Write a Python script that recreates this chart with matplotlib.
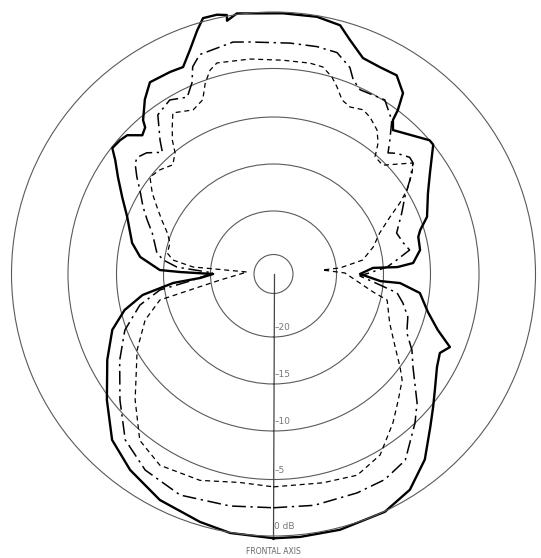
import numpy as np
import matplotlib
matplotlib.use("Agg")
import matplotlib.pyplot as plt

# Polar response, levels in dB, angle in degrees from the frontal axis
# (0 = front / bottom of the chart, increasing towards the right side).
solid_theta = [0, 5.8, 14.6, 25.1, 32.3, 39.2, 45.7, 50.2, 54.3, 60.4, 64.6, 67.5,
               71.2, 76.2, 82.6, 85.9, 86.2, 90.0, 93.5, 93.2, 94.5, 99.3, 104.4,
               106.7, 110.4, 117.7, 122.8, 129.0, 130.6, 140.3, 142.2, 142.8, 144.4,
               148.2, 152.8, 157.5, 161.9, 165.0, 170.4, 177.9, 188.0, 190.4, 190.2,
               192.3, 195.4, 197.4, 200.4, 203.6, 207.1, 212.8, 216.4, 220.3, 221.2,
               223.4, 226.5, 228.9, 232.0, 234.3, 238.1, 243.1, 248.7, 253.0, 257.6,
               262.7, 268.0, 268.8, 270.0, 273.1, 275.1, 279.1, 283.6, 289.1, 297.3,
               307.1, 315.8, 323.8, 333.3, 343.5, 350.5, 360]
solid_db = [0.2, 0.2, 0.2, 0.05, -0.6, -2.0, -3.8, -4.8, -5.7, -6.8, -7.2, -6.5,
            -8.3, -9.8, -11.0, -13.2, -15.3, -17.5, -16.1, -13.5, -11.8, -10.9, -10.8,
            -10.4, -9.3, -8.2, -7.0, -5.0, -5.0, -6.9, -6.1, -5.0, -3.5,
            -2.5, -2.6, -2.5, -1.4, -0.4, -0.1, -0.1, 0.1, -0.4, 0.1,
            0.3, 0.3, -0.6, -2.0, -3.2, -3.1, -3.0, -4.0, -5.4, -6.1,
            -6.5, -5.4, -5.2, -5.1, -6.1, -7.3, -8.7, -10.0, -10.7, -11.3,
            -12.4, -14.6, -16.8, -20.3, -18.9, -16.0, -12.6, -10.4, -8.6, -6.9,
            -4.7, -2.7, -1.7, -0.8, -0.3, 0.05, 0.2]

dashdot_theta = [0, 10.0, 20.9, 28.4, 35.3, 43.5, 48.1, 52.4, 56.3, 61.2, 66.2, 72.3,
                 77.4, 81.3, 84.1, 88.7, 93.5, 96.5, 100.0, 103.5, 108.4, 115.4,
                 120.4, 124.6, 128.5, 130.6, 134.4, 136.6, 139.0, 142.4, 147.4, 154.8,
                 157.7, 159.7, 164.0, 169.2, 175.9, 185.8, 189.9, 198.6, 201.3, 203.1,
                 206.0, 210.8, 216.0, 220.3, 222.4, 226.3, 229.4, 231.3, 234.6, 237.8,
                 242.8, 246.9, 251.4, 259.8, 262.8, 265.9, 269.0, 274.8, 278.0, 283.1,
                 290.7, 299.3, 309.4, 318.2, 326.8, 337.1, 349.4, 360]
dashdot_db = [-2.5, -2.4, -2.45, -2.5, -3.0, -5.0, -6.3, -7.8, -8.9, -9.9, -11.2, -11.7,
              -12.6, -13.4, -15.3, -17.5, -14.6, -13.5, -12.0, -12.5, -12.9, -11.6,
              -10.5, -9.1, -7.8, -7.7, -8.4, -9.0, -7.9, -6.2, -4.9, -5.2,
              -4.6, -3.7, -2.8, -2.7, -2.7, -2.55, -2.35, -2.7, -3.5, -4.8,
              -5.9, -5.3, -5.9, -8.1, -9.2, -8.1, -7.7, -7.9, -8.9, -9.9,
              -11.1, -12.1, -13.1, -14.1, -14.9, -16.4, -20.3, -17.8, -14.5, -12.1,
              -9.8, -8.0, -5.7, -3.5, -2.45, -1.95, -2.3, -2.5]

dashed_theta = [0, 13.3, 22.6, 30.5, 38.7, 44.7, 50.5, 53.7, 59.0, 67.2, 77.1, 79.7,
                90.8, 94.7, 95.2, 98.9, 105.2, 111.1, 116.1, 119.3, 122.2, 126.1, 128.5,
                134.9, 139.1, 141.4, 144.3, 148.4, 151.4, 155.4, 158.5, 161.3, 163.5,
                166.6, 170.2, 177.5, 186.2, 195.0, 197.3, 199.7, 202.1, 206.1, 212.0,
                214.6, 217.1, 219.1, 222.7, 227.5, 231.9, 236.3, 240.1, 244.2, 248.9,
                253.3, 258.9, 262.1, 265.0, 265.7, 276.4, 280.8, 282.9, 289.7, 299.1,
                312.3, 321.2, 329.3, 340.4, 350.9, 360]
dashed_db = [-4.35, -4.2, -3.9, -4.6, -6.5, -7.9, -9.0, -10.0, -11.6, -13.3, -14.3, -15.9,
             -19.1, -21.6, -19.6, -17.1, -15.7, -14.6, -12.9, -11.3, -9.9, -8.5, -7.8,
             -10.3, -10.2, -8.9, -7.9, -7.2, -6.9, -7.25, -6.9, -5.8, -5.0,
             -4.35, -4.25, -4.25, -4.05, -3.85, -4.3, -5.3, -6.8, -7.35, -6.6,
             -7.8, -8.9, -10.1, -10.9, -10.3, -10.0, -11.2, -12.4, -13.5, -14.6,
             -15.2, -15.2, -15.9, -18.1, -24.2, -21.1, -17.7, -14.3, -12.2, -10.1,
             -6.9, -4.3, -3.5, -3.8, -4.5, -4.35]

ring_levels = [-25, -20, -15, -10, -5]
tick_levels = [-20, -15, -10, -5, 0]
tick_labels = ["\u201320", "\u201315", "\u201310", "\u20135", "0 dB"]

# Radial spacing of the printed chart paper (relative radius of each level).
scale_db = [-30, -25, -20, -15, -10, -5, 0, 5]
scale_rad = [0.0, 0.0744, 0.2405, 0.4198, 0.5992, 0.7844, 1.0, 1.2156]


def fwd(v):
    return np.interp(v, scale_db, scale_rad)


def inv(v):
    return np.interp(v, scale_rad, scale_db)


W, H = 541, 558
fig = plt.figure(figsize=(W / 100, H / 100), dpi=100)
fig.patch.set_facecolor("white")

cx, cy, R = 273.5, 284.0, 262.0
ax = fig.add_axes([(cx - R) / W, (cy - R) / H, 2 * R / W, 2 * R / H],
                  projection="polar")
ax.set_theta_zero_location("S")
ax.set_theta_direction(1)
ax.set_rscale("function", functions=(fwd, inv))
ax.set_rlim(-30, 0)

ring_color = "#5a5a5a"
ax.set_rgrids(ring_levels, labels=[""] * len(ring_levels))
ax.yaxis.grid(True, color=ring_color, lw=0.8)
ax.xaxis.grid(False)
ax.set_xticks([])
ax.spines["polar"].set_color(ring_color)
ax.spines["polar"].set_linewidth(0.8)
ax.set_facecolor("white")

# frontal axis line with level marks
ax.plot([0, 0], [-30, 0.3], color="#444444", lw=0.9, clip_on=False)
for lev, lab in zip(tick_levels, tick_labels):
    ax.annotate(lab, xy=(0, lev), xytext=(0.5, 6.5), textcoords="offset points",
                ha="left", va="center", fontsize=6.5, color="#777777",
                family="DejaVu Sans", annotation_clip=False)

th = lambda a: np.deg2rad(np.asarray(a))
ax.plot(th(solid_theta), solid_db, color="black", lw=1.7, clip_on=False,
        solid_joinstyle="round")
ax.plot(th(dashdot_theta), dashdot_db, color="black", lw=1.1, clip_on=False,
        linestyle=(0, (9, 3, 1.5, 3)))
ax.plot(th(dashed_theta), dashed_db, color="black", lw=0.9, clip_on=False,
        linestyle=(0, (4, 3)))

fig.text(cx / W, 1 - 551 / H, "FRONTAL AXIS", ha="center", va="center",
         fontsize=5.5, color="#666666")

fig.savefig("out.png", dpi=100, facecolor="white")
